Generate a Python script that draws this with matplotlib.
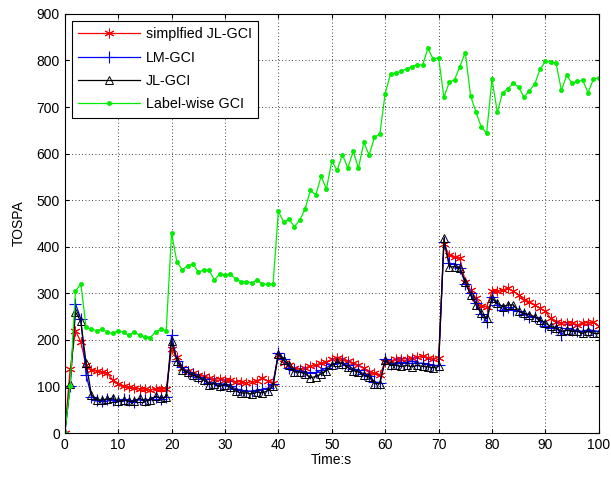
import numpy as np
import matplotlib
matplotlib.use("Agg")
import matplotlib.pyplot as plt

plt.rcParams['font.family'] = ['Liberation Sans', 'DejaVu Sans']

time_s = np.arange(0, 101)

simplified_jl_gci = [
    0, 137, 220, 196, 145, 135, 133, 132, 128, 113, 105, 100, 98, 96, 95, 94, 93, 94, 94, 95, 180,
    163, 140, 133, 128, 125, 122, 118, 115, 117, 113, 113, 110, 110, 108, 110, 112, 118, 112, 108, 168,
    150, 145, 140, 137, 140, 143, 146, 150, 153, 158, 162, 160, 155, 150, 145, 140, 132, 128, 125, 152,
    155, 158, 158, 160, 162, 163, 165, 162, 160, 162,
    405, 382, 379, 375, 325, 307, 289, 273, 271, 304,
    304, 307, 311, 304, 296, 286, 282, 275, 268, 261,
    246, 239, 237, 236, 236, 232, 236, 237, 239, 229]

lm_gci = [
    0, 100, 278, 245, 125, 78, 70, 68, 72, 70, 68, 72, 70, 66, 72, 70, 72, 78, 74, 78, 210,
    155, 142, 130, 126, 120, 115, 108, 108, 104, 106, 100, 95, 92, 90, 90, 92, 94, 96, 105, 172,
    160, 140, 135, 133, 132, 128, 130, 135, 140, 148, 150, 150, 145, 138, 135, 126, 122, 110, 108, 158,
    148, 150, 152, 150, 155, 150, 150, 148, 145, 145,
    410, 365, 362, 355, 320, 300, 280, 255, 238, 292,
    275, 265, 270, 265, 262, 255, 250, 250, 240, 230,
    225, 228, 210, 225, 222, 220, 218, 222, 220, 218]

jl_gci = [
    0, 105, 260, 240, 150, 82, 71, 71, 73, 75, 68, 71, 68, 68, 75, 68, 71, 79, 75, 77, 198,
    155, 135, 130, 124, 120, 114, 104, 106, 100, 104, 98, 90, 86, 86, 84, 88, 86, 91, 100, 170,
    156, 145, 131, 131, 127, 119, 121, 127, 134, 145, 152, 149, 141, 134, 131, 124, 120, 106, 106, 156,
    145, 145, 143, 145, 142, 145, 143, 142, 140, 143,
    418, 357, 357, 354, 325, 296, 275, 257, 246, 289,
    279, 271, 275, 275, 261, 257, 254, 250, 243, 236,
    229, 225, 218, 221, 218, 218, 214, 218, 214, 214]

label_wise_gci = [
    0, 100, 304, 321, 227, 223, 220, 223, 216, 214, 220, 216, 210, 217, 210, 207, 205, 217, 223, 220, 430,
    367, 351, 359, 363, 346, 350, 350, 329, 341, 340, 341, 331, 325, 325, 322, 329, 319, 320, 319, 476,
    453, 459, 443, 457, 481, 521, 511, 551, 524, 584, 564, 598, 569, 605, 569, 624, 597, 635, 642, 729,
    771, 773, 777, 782, 787, 791, 790, 826, 803, 806,
    721, 753, 759, 787, 817, 724, 689, 657, 644, 760,
    689, 731, 739, 751, 743, 721, 735, 749, 781, 798,
    797, 794, 736, 768, 751, 755, 757, 731, 760, 763]

x_ticks = np.arange(0, 101, 10)
y_ticks = np.arange(0, 901, 100)

fig = plt.figure(figsize=(6.11, 4.79), dpi=100)
ax = fig.add_axes([0.106, 0.096, 0.874, 0.875])

# matlab-style asterisk: 6-point line star
ax.plot(time_s, simplified_jl_gci, color='#ff0000', lw=0.9, marker=(6, 2, 0), ms=7, mew=0.7,
        label='simplfied JL-GCI')
ax.plot(time_s, lm_gci, color='#0000ff', lw=0.9, marker='+', ms=8, mew=0.8, label='LM-GCI')
ax.plot(time_s, jl_gci, color='black', lw=0.9, marker='^', ms=6, mew=0.7, mfc='none',
        label='JL-GCI')
ax.plot(time_s, label_wise_gci, color='#00ee00', lw=0.9, marker='o', ms=3, mew=0.5,
        label='Label-wise GCI')

ax.set_xlim(0, 100)
ax.set_ylim(0, 900)
ax.set_xticks(x_ticks)
ax.set_yticks(y_ticks)
ax.tick_params(direction='in', top=True, right=True, labelsize=10, length=3)
ax.grid(True, color='black', linestyle=(0, (1, 3)), lw=0.6)
for sp in ax.spines.values():
    sp.set_linewidth(0.8)

ax.set_xlabel('Time:s', fontsize=10, labelpad=1)
ax.set_ylabel('TOSPA', fontsize=10, labelpad=8)

leg = ax.legend(loc='upper left', fontsize=10.3, fancybox=False, framealpha=1,
                edgecolor='black', handlelength=4.3, borderaxespad=0.5,
                labelspacing=0.65, handletextpad=0.4, borderpad=0.45)
leg.get_frame().set_linewidth(0.8)

fig.savefig('out.png', dpi=100)
